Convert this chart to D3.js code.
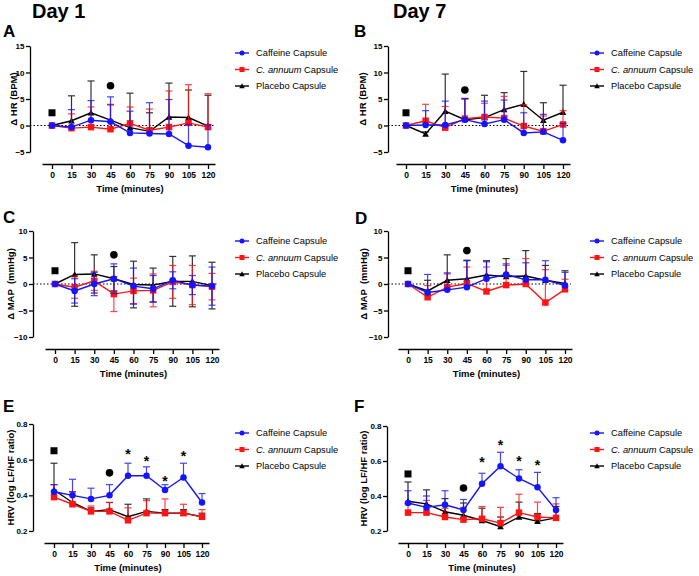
<!DOCTYPE html>
<html><head><meta charset="utf-8">
<script src="https://cdn.jsdelivr.net/npm/d3@7"></script>
<style>body{margin:0;background:#fff}svg{display:block;font-family:"Liberation Sans",Arial,sans-serif}</style>
</head><body><svg id="c" width="699" height="576"></svg>
<script>
// ---------- DATA ----------
const times = [0, 15, 30, 45, 60, 75, 90, 105, 120];
const seriesNames = ["Caffeine Capsule", "C. annuum Capsule", "Placebo Capsule"];
const dayTitles = ["Day 1", "Day 7"];
const hrTicks = [-5, 0, 5, 10, 15];
const mapTicks = [-10, -5, 0, 5, 10];
const hrvTicks = [0.2, 0.4, 0.6, 0.8];

// A: Day 1 HR
const hrD1Caf = [0, -0.3, 1.0, 0.7, -1.4, -1.5, -1.6, -3.8, -4.1];
const hrD1CafErr = [0, 3.3, 3.7, 4.7, 4.1, 5.8, 6.5, 4.0, 4.2];
const hrD1Cap = [0, -0.5, -0.3, -0.7, 0.4, -0.9, -0.3, 0.5, -0.3];
const hrD1CapErr = [0, 2.7, 3.8, 4.7, 3.1, 4.0, 6.8, 7.2, 6.3];
const hrD1Pla = [0, 0.9, 2.4, 1.0, -0.4, -1.1, 1.6, 1.5, -0.1];
const hrD1PlaErr = [0, 4.7, 6.0, 2.9, 6.5, 3.5, 6.4, 5.2, 5.8];
// B: Day 7 HR
const hrD7Caf = [0, 0.1, 0.1, 1.1, 0.3, 1.1, -1.4, -1.2, -2.8];
const hrD7CafErr = [0, 2.7, 4.5, 4.0, 4.3, 3.7, 3.8, 3.3, 3.2];
const hrD7Cap = [0, 0.9, -0.4, 1.3, 1.6, 1.4, -0.1, -1.1, 0.2];
const hrD7CapErr = [0, 3.1, 4.0, 3.8, 2.6, 4.1, 4.0, 2.9, 2.6];
const hrD7Pla = [0, -1.6, 2.7, 1.1, 1.5, 3.0, 4.0, 1.0, 2.5];
const hrD7PlaErr = [0, 0.4, 7.0, 3.9, 4.2, 3.2, 6.2, 3.3, 5.1];
// C: Day 1 MAP
const mapD1Caf = [0, -1.3, 0, 1.0, -0.4, -0.9, 0.7, -0.2, -0.4];
const mapD1CafErr = [0, 2.3, 2.2, 2.8, 3.4, 2.5, 1.6, 1.8, 3.6];
const mapD1Cap = [0, -0.6, 0.6, -1.9, -1.3, -1.2, 0.4, -0.2, -0.5];
const mapD1CapErr = [0, 2.1, 1.8, 3.3, 2.4, 3.1, 3.1, 3.7, 2.5];
const mapD1Pla = [0, 1.8, 1.9, 1.0, -0.1, -0.2, 0.5, 0.5, -0.3];
const mapD1PlaErr = [0, 6.0, 3.6, 2.3, 4.4, 3.2, 4.7, 4.8, 4.4];
// D: Day 7 MAP
const mapD7Caf = [0, -1.6, -1.1, -0.6, 1.0, 1.8, 0.8, 0.8, -0.3];
const mapD7CafErr = [0, 3.4, 3.2, 5.1, 3.2, 2.0, 3.2, 3.6, 2.5];
const mapD7Cap = [0, -2.5, -0.6, 0.1, -1.4, -0.2, 0, -3.5, -1.0];
const mapD7CapErr = [0, 2.2, 2.5, 3.1, 4.6, 3.7, 4.8, 6.2, 1.9];
const mapD7Pla = [0, -1.3, 0.7, 1.0, 1.7, 1.4, 1.5, 0.7, 0.1];
const mapD7PlaErr = [0, 2.0, 4.8, 3.4, 2.7, 3.4, 4.8, 2.8, 2.4];
// E: Day 1 HRV
const hrvD1Caf = [0.42, 0.40, 0.38, 0.40, 0.51, 0.51, 0.43, 0.50, 0.36];
const hrvD1CafErr = [0.04, 0.09, 0.06, 0.06, 0.07, 0.05, 0.03, 0.08, 0.05];
const hrvD1Cap = [0.39, 0.35, 0.31, 0.31, 0.26, 0.30, 0.30, 0.30, 0.28];
const hrvD1CapErr = [0.07, 0.07, 0.03, 0.05, 0.07, 0.07, 0.08, 0.05, 0.04];
const hrvD1Pla = [0.43, 0.36, 0.31, 0.32, 0.28, 0.31, 0.30, 0.30, 0.28];
const hrvD1PlaErr = [0.15, 0.06, 0.02, 0.04, 0.07, 0.07, 0.02, 0.02, 0.02];
// F: Day 7 HRV
const hrvD7Caf = [0.36, 0.335, 0.35, 0.32, 0.47, 0.57, 0.50, 0.45, 0.32];
const hrvD7CafErr = [0.07, 0.065, 0.08, 0.06, 0.06, 0.08, 0.05, 0.085, 0.07];
const hrvD7Cap = [0.305, 0.305, 0.28, 0.265, 0.27, 0.245, 0.305, 0.28, 0.275];
const hrvD7CapErr = [0.05, 0.07, 0.05, 0.07, 0.07, 0.09, 0.105, 0.085, 0.08];
const hrvD7Pla = [0.37, 0.355, 0.31, 0.29, 0.26, 0.225, 0.28, 0.255, 0.275];
const hrvD7PlaErr = [0.11, 0.08, 0.075, 0.07, 0.07, 0.055, 0.085, 0.045, 0.065];

// significance markers [time, value]
const squareMarks = [[0, 2.4], [0, 2.4], [0, 2.5], [0, 2.5], [0, 0.65], [0, 0.526]];
const circleMarks = [[45, 7.5], [45, 6.7], [45, 5.5], [45, 6.3], [45, 0.526], [45, 0.446]];
const starTimes = [60, 75, 90, 105];
const starsE = [0.65, 0.61, 0.50, 0.64];
const starsF = [0.61, 0.71, 0.617, 0.594];

// ---------- LAYOUT ----------
const svg = d3.select("#c");
const colors = ["#1414ff", "#ff1414", "#000000"];

svg.append("text").attr("x", 32).attr("y", 18).attr("font-size", 20).attr("font-weight", "bold").text(dayTitles[0]);
svg.append("text").attr("x", 393).attr("y", 18).attr("font-size", 20).attr("font-weight", "bold").text(dayTitles[1]);

const panels = [
  {letter: "A", lx: 3, ly: 37, ax: 30, yt: 46, yb: 152, dom: [-5, 15], ticks: hrTicks, xy: 164, x0: 52, x1: 208,
   label: "\u0394 HR (BPM)", labx: 16.5, legX: 235, legY: 53, mode: "up", zero: true,
   s: [[hrD1Caf, hrD1CafErr], [hrD1Cap, hrD1CapErr], [hrD1Pla, hrD1PlaErr]], fmt: d3.format("d")},
  {letter: "B", lx: 354, ly: 37, ax: 388, yt: 46, yb: 152, dom: [-5, 15], ticks: hrTicks, xy: 164, x0: 406, x1: 563,
   label: "\u0394 HR (BPM)", labx: 366, legX: 590, legY: 53, mode: "up", zero: true,
   s: [[hrD7Caf, hrD7CafErr], [hrD7Cap, hrD7CapErr], [hrD7Pla, hrD7PlaErr]], fmt: d3.format("d")},
  {letter: "C", lx: 3, ly: 223, ax: 33, yt: 231, yb: 337, dom: [-10, 10], ticks: mapTicks, xy: 349, x0: 55, x1: 212,
   label: "\u0394 MAP  (mmHg)", labx: 14, legX: 235, legY: 241, mode: "both", zero: true,
   s: [[mapD1Caf, mapD1CafErr], [mapD1Cap, mapD1CapErr], [mapD1Pla, mapD1PlaErr]], fmt: d3.format("d")},
  {letter: "D", lx: 355, ly: 224, ax: 388, yt: 231, yb: 337, dom: [-10, 10], ticks: mapTicks, xy: 349, x0: 408, x1: 565,
   label: "\u0394 MAP  (mmHg)", labx: 367, legX: 590, legY: 241, mode: "up", zero: true,
   s: [[mapD7Caf, mapD7CafErr], [mapD7Cap, mapD7CapErr], [mapD7Pla, mapD7PlaErr]], fmt: d3.format("d")},
  {letter: "E", lx: 3, ly: 412, ax: 33, yt: 424, yb: 531, dom: [0.2, 0.8], ticks: hrvTicks, xy: 543, x0: 54, x1: 202,
   label: "HRV (log LF/HF ratio)", labx: 14, legX: 235, legY: 433, mode: "up", zero: false, stars: starsE,
   s: [[hrvD1Caf, hrvD1CafErr], [hrvD1Cap, hrvD1CapErr], [hrvD1Pla, hrvD1PlaErr]], fmt: d3.format(".1f")},
  {letter: "F", lx: 354, ly: 412, ax: 387, yt: 426, yb: 531, dom: [0.2, 0.8], ticks: hrvTicks, xy: 543, x0: 408, x1: 556,
   label: "HRV (log LF/HF ratio)", labx: 367, legX: 590, legY: 433, mode: "up", zero: false, stars: starsF,
   s: [[hrvD7Caf, hrvD7CafErr], [hrvD7Cap, hrvD7CapErr], [hrvD7Pla, hrvD7PlaErr]], fmt: d3.format(".1f")}
];

function marker(g, type, cx, cy, sz, color) {
  if (type === 0) g.append("circle").attr("cx", cx).attr("cy", cy).attr("r", sz * 0.5).attr("fill", color);
  else if (type === 1) g.append("rect").attr("x", cx - sz / 2).attr("y", cy - sz / 2).attr("width", sz).attr("height", sz).attr("fill", color);
  else g.append("path").attr("d", `M${cx},${cy - sz * 0.55}L${cx + sz * 0.55},${cy + sz * 0.45}L${cx - sz * 0.55},${cy + sz * 0.45}Z`).attr("fill", color);
}

panels.forEach((p, pi) => {
  const g = svg.append("g");
  const y = d3.scaleLinear().domain(p.dom).range([p.yb, p.yt]);
  const pxPerMin = (p.x1 - p.x0) / 120;
  const xl = p.x0 - 10, xr = p.x1 + 7;
  const x = d3.scaleLinear().domain([(xl - p.x0) / pxPerMin, (xr - p.x0) / pxPerMin]).range([xl, xr]);

  // panel letter
  g.append("text").attr("x", p.lx).attr("y", p.ly).attr("font-size", 17).attr("font-weight", "bold").text(p.letter);

  // y axis
  const ya = g.append("g").attr("transform", `translate(${p.ax},0)`)
    .call(d3.axisLeft(y).tickValues(p.ticks).tickFormat(p.fmt).tickSize(4).tickSizeOuter(0).tickPadding(1.5));
  ya.select(".domain").attr("stroke-width", 1.3);
  ya.selectAll(".tick line").attr("stroke-width", 1.3);
  ya.selectAll("text").attr("font-size", 8).attr("font-weight", "bold").attr("font-family", "Liberation Sans, Arial");

  // x axis
  const xa = g.append("g").attr("transform", `translate(0,${p.xy})`)
    .call(d3.axisBottom(x).tickValues(times).tickSize(5).tickSizeOuter(0).tickPadding(3));
  xa.select(".domain").attr("stroke-width", 1.3);
  xa.selectAll(".tick line").attr("stroke-width", 1.3);
  xa.selectAll("text").attr("font-size", 8.5).attr("font-weight", "bold").attr("font-family", "Liberation Sans, Arial");

  g.append("text").attr("x", (x(0) + x(120)) / 2).attr("y", p.xy + 28).attr("text-anchor", "middle")
    .attr("font-size", 9.5).attr("font-weight", "bold").text("Time (minutes)");

  // y label
  g.append("text").attr("transform", `translate(${p.labx},${(p.yt + p.yb) / 2}) rotate(-90)`)
    .attr("text-anchor", "middle").attr("font-size", 9.5).attr("font-weight", "bold")
    .attr("xml:space", "preserve").style("white-space", "pre").text(p.label);

  // zero line
  if (p.zero) g.append("line").attr("x1", p.ax).attr("x2", x(120) + 6).attr("y1", y(0)).attr("y2", y(0))
    .attr("stroke", "#000").attr("stroke-width", 1).attr("stroke-dasharray", "1.5,2");

  // series (draw placebo, capsaicin, caffeine)
  [2, 1, 0].forEach(si => {
    const [vals, errs] = p.s[si];
    const c = colors[si];
    const eg = g.append("g").attr("stroke", c).attr("stroke-width", 1.2).attr("opacity", 0.8);
    vals.forEach((v, i) => {
      const e = errs[i];
      if (!e) return;
      const tx = x(times[i]);
      const top = y(v + e);
      const bot = p.mode === "both" ? y(v - e) : y(v);
      eg.append("line").attr("x1", tx).attr("x2", tx).attr("y1", top).attr("y2", bot);
      eg.append("line").attr("x1", tx - 3.5).attr("x2", tx + 3.5).attr("y1", top).attr("y2", top);
      if (p.mode === "both") eg.append("line").attr("x1", tx - 3.5).attr("x2", tx + 3.5).attr("y1", bot).attr("y2", bot);
    });
    const line = d3.line().x((d, i) => x(times[i])).y(d => y(d));
    g.append("path").datum(vals).attr("d", line).attr("fill", "none").attr("stroke", c).attr("stroke-width", 1.4);
    vals.forEach((v, i) => marker(g, si, x(times[i]), y(v), si === 0 ? 6.5 : (si === 1 ? 6.5 : 6), c));
  });

  // significance marks
  const sq = squareMarks[pi], ci = circleMarks[pi];
  g.append("rect").attr("x", x(sq[0]) - 3.5).attr("y", y(sq[1]) - 3.5).attr("width", 7).attr("height", 7).attr("fill", "#000");
  g.append("circle").attr("cx", x(ci[0])).attr("cy", y(ci[1])).attr("r", 3.8).attr("fill", "#000");
  if (p.stars) p.stars.forEach((v, i) => {
    g.append("text").attr("x", x(starTimes[i])).attr("y", y(v) + 8).attr("text-anchor", "middle")
      .attr("font-size", 14).attr("font-weight", "bold").text("*");
  });

  // legend
  seriesNames.forEach((name, si) => {
    const ly = p.legY + si * 16.5;
    g.append("line").attr("x1", p.legX).attr("x2", p.legX + 14).attr("y1", ly).attr("y2", ly)
      .attr("stroke", colors[si]).attr("stroke-width", 1.4);
    marker(g, si, p.legX + 7, ly, 5, colors[si]);
    const t = g.append("text").attr("x", p.legX + 21).attr("y", ly + 3.3).attr("font-size", 9.3);
    if (si === 1) {
      t.append("tspan").attr("font-style", "italic").text("C. annuum");
      t.append("tspan").text(" Capsule");
    } else t.text(name);
  });
});
</script></body></html>
